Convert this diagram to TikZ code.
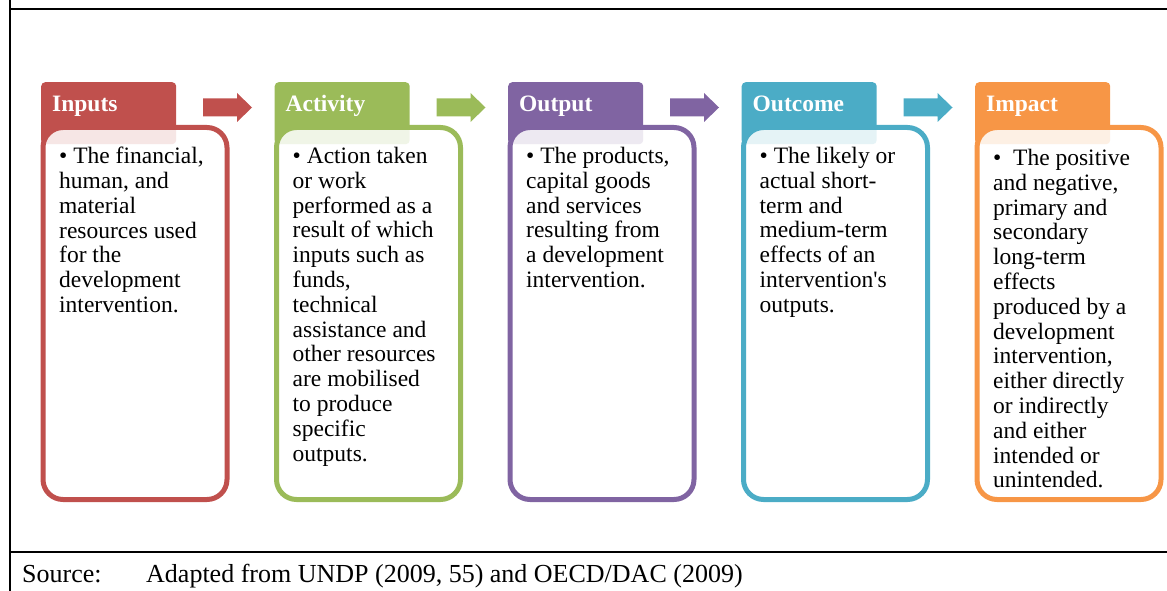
\documentclass[tikz,border=0pt]{standalone}
\usepackage{fontspec}
\setmainfont{Liberation Serif}
\usepackage{tikz}
\usetikzlibrary{positioning}
\definecolor{inputsCol}{HTML}{C0504D}
\definecolor{activityCol}{HTML}{9BBB59}
\definecolor{outputCol}{HTML}{8064A2}
\definecolor{outcomeCol}{HTML}{4BACC6}
\definecolor{impactCol}{HTML}{F79646}

\tikzset{flowarrow/.pic={\fill (0,-9) -- (34,-9) -- (34,-14.5) -- (49,0) -- (34,14.5) -- (34,9) -- (0,9) -- cycle;}}

\begin{document}
\begin{tikzpicture}[x=1pt,y=-1pt,
  tab/.style={rounded corners=4pt, inner sep=0pt, minimum width=135pt, minimum height=62pt, anchor=north west},
  body/.style={rounded corners=20pt, line width=5pt, fill=white, fill opacity=0.86, inner sep=0pt, minimum width=184pt, minimum height=372pt, anchor=north west},
  head/.style={text=white, font=\bfseries\fontsize{23.5}{28}\selectfont, inner sep=0pt, anchor=base west},
  txt/.style={font=\fontsize{23.5}{24.8}\selectfont, align=left, inner sep=0pt, anchor=north west},
  src/.style={font=\fontsize{26}{30}\selectfont, inner sep=0pt, anchor=base west},
  frame/.style={line width=2pt}]

\useasboundingbox (0,0) rectangle (1167,591);

% frame
\draw[frame] (10,0) -- (10,591);
\draw[frame] (10,8.7) -- (1167,8.7);
\draw[frame] (10,552) -- (1167,552);

% inputs
\node[tab, fill=inputsCol] (inputsTab) at (41,82) {};
\node[head] (inputsHead) at ([xshift=11pt,yshift=-30pt]inputsTab.north west) {Inputs};
\node[body, draw=inputsCol] (inputs) at ([xshift=-0.5pt,yshift=-43pt]inputsTab.north west) {};
\node[txt] (inputsText) at ([xshift=18.5pt,yshift=-22pt]inputs.north west)
  {\textbullet{} The financial,\\human, and\\material\\resources used\\for the\\development\\intervention.};
\coordinate (inputsArrow) at ([xshift=162pt,yshift=-25.5pt]inputsTab.north west);
\pic[color=inputsCol] at (inputsArrow) {flowarrow};

% activity
\node[tab, fill=activityCol] (activityTab) at (274.5,82) {};
\node[head] (activityHead) at ([xshift=11pt,yshift=-30pt]activityTab.north west) {Activity};
\node[body, draw=activityCol] (activity) at ([xshift=-0.5pt,yshift=-43pt]activityTab.north west) {};
\node[txt] (activityText) at ([xshift=18.5pt,yshift=-22pt]activity.north west)
  {\textbullet{} Action taken\\or work\\performed as a\\result of which\\inputs such as\\funds,\\technical\\assistance and\\other resources\\are mobilised\\to produce\\specific\\outputs.};
\coordinate (activityArrow) at ([xshift=162pt,yshift=-25.5pt]activityTab.north west);
\pic[color=activityCol] at (activityArrow) {flowarrow};

% output
\node[tab, fill=outputCol] (outputTab) at (508,82) {};
\node[head] (outputHead) at ([xshift=11pt,yshift=-30pt]outputTab.north west) {Output};
\node[body, draw=outputCol] (output) at ([xshift=-0.5pt,yshift=-43pt]outputTab.north west) {};
\node[txt] (outputText) at ([xshift=18.5pt,yshift=-22pt]output.north west)
  {\textbullet{} The products,\\capital goods\\and services\\resulting from\\a development\\intervention.};
\coordinate (outputArrow) at ([xshift=162pt,yshift=-25.5pt]outputTab.north west);
\pic[color=outputCol] at (outputArrow) {flowarrow};

% outcome
\node[tab, fill=outcomeCol] (outcomeTab) at (741.5,82) {};
\node[head] (outcomeHead) at ([xshift=11pt,yshift=-30pt]outcomeTab.north west) {Outcome};
\node[body, draw=outcomeCol] (outcome) at ([xshift=-0.5pt,yshift=-43pt]outcomeTab.north west) {};
\node[txt] (outcomeText) at ([xshift=18.5pt,yshift=-22pt]outcome.north west)
  {\textbullet{} The likely or\\actual short-\\term and\\medium-term\\effects of an\\intervention\textquotesingle s\\outputs.};
\coordinate (outcomeArrow) at ([xshift=162pt,yshift=-25.5pt]outcomeTab.north west);
\pic[color=outcomeCol] at (outcomeArrow) {flowarrow};

% impact
\node[tab, fill=impactCol] (impactTab) at (975,82) {};
\node[head] (impactHead) at ([xshift=11pt,yshift=-30pt]impactTab.north west) {Impact};
\node[body, draw=impactCol] (impact) at ([xshift=-0.5pt,yshift=-43pt]impactTab.north west) {};
\node[txt] (impactText) at ([xshift=18.5pt,yshift=-24pt]impact.north west)
  {\textbullet\ \ The positive\\and negative,\\primary and\\secondary\\long-term\\effects\\produced by a\\development\\intervention,\\either directly\\or indirectly\\and either\\intended or\\unintended.};

% source
\node[src] (srcLabel) at (22,582) {Source:};
\node[src] (srcText) at (146,582) {Adapted from UNDP (2009, 55) and OECD/DAC (2009)};
\end{tikzpicture}
\end{document}
